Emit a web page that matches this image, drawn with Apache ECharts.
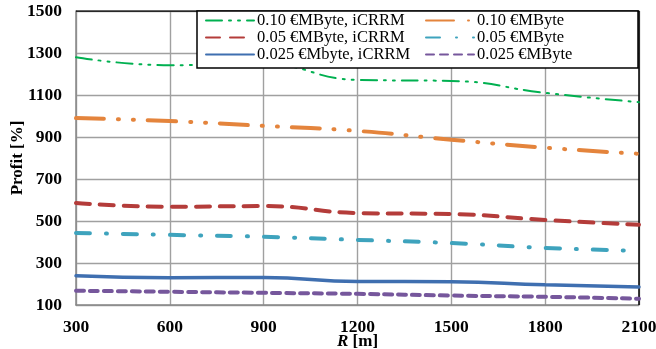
<!DOCTYPE html>
<html>
<head>
<meta charset="utf-8">
<script src="https://cdn.jsdelivr.net/npm/echarts@6/dist/echarts.min.js"></script>
<style>
  html, body { margin: 0; padding: 0; background: #fff; }
  #chart { width: 656px; height: 349px; }
</style>
</head>
<body>
<div id="chart"></div>
<script>
const radius = [300, 600, 900, 1200, 1500, 1800, 2100]
const green = [1280, 1242, 1247, 1172, 1167, 1110, 1066]
const orange = [990, 976, 953, 929, 887, 849, 820]
const red = [586, 568, 571, 538, 533, 505, 482]
const cyan = [443, 434, 425, 410, 395, 372, 358]
const blue = [239, 230, 231, 212, 211, 196, 186]
const purple = [168, 163, 158, 153, 145, 139, 130]

const names = [
  '0.10 €MByte, iCRRM', '0.10 €MByte',
  '0.05 €MByte, iCRRM', '0.05 €MByte',
  '0.025 €Mbyte, iCRRM', '0.025 €MByte'
]

const pairs = (ys) => radius.map((x, i) => [x, ys[i]])

const mkLine = (name, ys, color, width, type) => ({
  name,
  type: 'line',
  smooth: true,
  symbol: 'none',
  data: pairs(ys),
  lineStyle: { color, width, type, cap: 'round' },
  itemStyle: { color }
})

const font = '"Liberation Serif", "Times New Roman", serif'
const chart = echarts.init(document.getElementById('chart'))

const legendBase = {
  orient: 'vertical',
  top: 12,
  itemWidth: 48,
  itemHeight: 10,
  itemGap: 0,
  padding: 0,
  itemStyle: { opacity: 0 },
  textStyle: { fontFamily: font, fontSize: 16.5, lineHeight: 16, color: '#000', padding: [0, 0, 0, -2] }
}

chart.setOption({
  animation: false,
  backgroundColor: '#fff',
  grid: { left: 76, right: 17, top: 11, bottom: 44, outerBoundsMode: 'none', containLabel: false },
  graphic: [{
    type: 'rect',
    shape: { x: 197, y: 11, width: 441, height: 57 },
    style: { fill: '#fff', stroke: '#000', lineWidth: 1.5 },
    z: 50
  }],
  legend: [
    Object.assign({}, legendBase, { left: 205, data: [names[0], names[2], names[4]], z: 60 }),
    Object.assign({}, legendBase, { left: 425, data: [names[1], names[3], names[5]], z: 60 })
  ],
  xAxis: {
    type: 'value',
    min: 300,
    max: 2100,
    interval: 300,
    name: '{i|R} [m]',
    nameLocation: 'middle',
    nameGap: 28,
    nameMoveOverlap: false,
    nameTextStyle: {
      fontFamily: font, fontSize: 17, fontWeight: 'bold', color: '#000',
      rich: { i: { fontFamily: font, fontSize: 17, fontWeight: 'bold', fontStyle: 'italic', color: '#000' } }
    },
    axisLine: { show: true, lineStyle: { color: '#888', width: 1.5 } },
    axisTick: { show: false },
    axisLabel: { fontFamily: font, fontSize: 17.5, fontWeight: 'bold', color: '#000', margin: 13, formatter: (v) => String(v) },
    splitLine: { show: true, lineStyle: { color: '#a0a0a0', width: 1.4 } }
  },
  yAxis: {
    type: 'value',
    min: 100,
    max: 1500,
    interval: 200,
    name: 'Profit [%]',
    nameLocation: 'middle',
    nameGap: 50,
    nameMoveOverlap: false,
    nameTextStyle: { fontFamily: font, fontSize: 17, fontWeight: 'bold', color: '#000' },
    axisLine: { show: true, lineStyle: { color: '#888', width: 1.5 } },
    axisTick: { show: false },
    axisLabel: { fontFamily: font, fontSize: 17.5, fontWeight: 'bold', color: '#000', margin: 14, formatter: (v) => String(v) },
    splitLine: { show: true, lineStyle: { color: '#a0a0a0', width: 1.4 } }
  },
  series: [
    mkLine(names[0], green, '#00b050', 2, [16, 7, 2, 7, 2, 7]),
    mkLine(names[1], orange, '#e4843c', 4, [28, 14, 1, 14, 1, 14]),
    mkLine(names[2], red, '#b43c3a', 4, [14, 10]),
    mkLine(names[3], cyan, '#3ea3bd', 4, [14, 16, 1, 16]),
    mkLine(names[4], blue, '#3f6fb0', 3.5, 'solid'),
    mkLine(names[5], purple, '#76579c', 4, [8, 6]),
    {
      type: 'line',
      silent: true,
      symbol: 'none',
      data: [[2100, 100], [2100, 1500], [300, 1500]],
      lineStyle: { color: '#000', width: 1.5 },
      z: 1
    }
  ]
})
</script>
</body>
</html>
